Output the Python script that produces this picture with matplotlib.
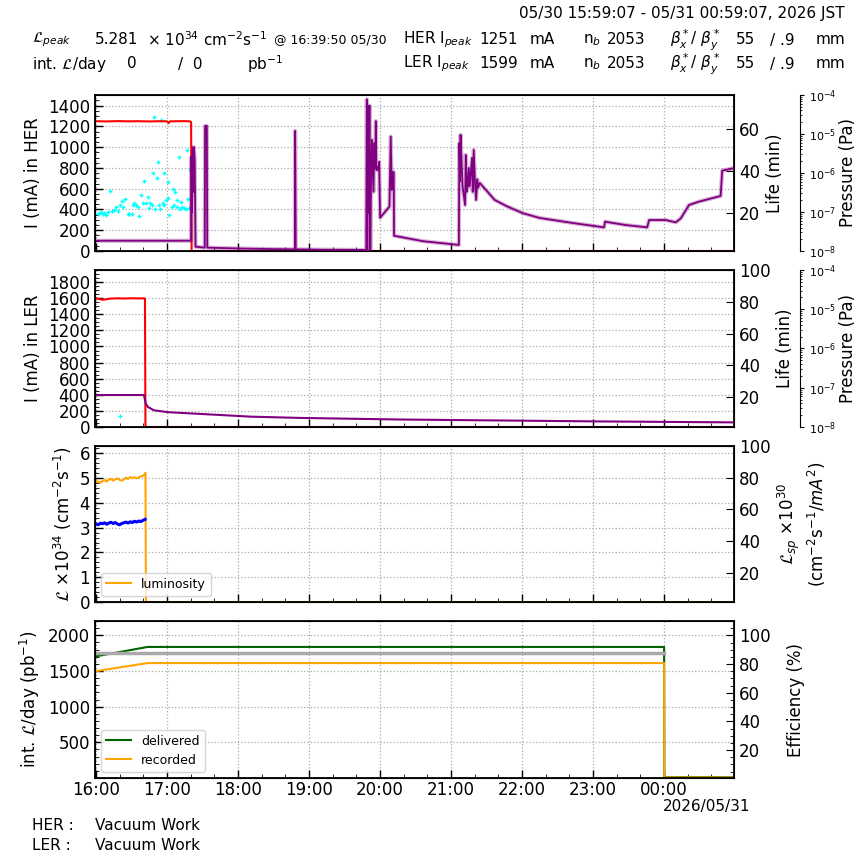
import matplotlib
matplotlib.use("Agg")
import matplotlib.pyplot as plt
from matplotlib.ticker import MultipleLocator, AutoMinorLocator, LogLocator, NullFormatter

# time in hours after 16:00 (05/30)
hour_ticks = [0, 1, 2, 3, 4, 5, 6, 7, 8]
hour_labels = ["16:00", "17:00", "18:00", "19:00", "20:00", "21:00", "22:00", "23:00", "00:00"]

# ---- HER ----
her_cur_t = [0.0, 0.15, 0.3, 0.45, 0.6, 0.75, 0.9, 1.0, 1.02, 1.04, 1.15, 1.25, 1.33, 1.338, 1.345, 8.985]
her_cur = [1250, 1248, 1251, 1249, 1250, 1248, 1250, 1249, 1232, 1249, 1250, 1251, 1248, 1240, 0, 0]

her_life_t = [0.0, 1.33, 1.338, 1.342, 1.35, 1.356, 1.363, 1.37, 1.378, 1.389, 1.400, 1.413, 1.53,
              1.535, 1.56, 1.565, 2.0, 2.5, 2.800, 2.803, 2.812, 3.2, 3.804, 3.813, 3.820, 3.827,
              3.839, 3.850, 3.862, 3.874, 3.884, 3.906, 3.920, 3.930, 3.940, 3.947, 3.954, 3.968,
              3.976, 3.986, 4.0, 4.131, 4.150, 4.164, 4.178, 4.192, 4.196, 4.6, 5.109, 5.116, 5.126,
              5.133, 5.147, 5.161, 5.18, 5.197, 5.207, 5.22, 5.231, 5.249, 5.258, 5.267, 5.295,
              5.305, 5.319, 5.335, 5.352, 5.368, 5.38, 5.404, 5.614, 5.778, 6.007, 6.246, 6.709,
              7.154, 7.168, 7.462, 7.761, 7.789, 8.024, 8.164, 8.235, 8.351, 8.491, 8.796, 8.818, 8.982]
her_life = [6.6, 6.6, 6.6, 46.8, 20.0, 32.5, 51.3, 30.0, 51.3, 45.0, 3.7, 3.7, 3.3,
            61.5, 61.5, 3.3, 2.9, 2.6, 2.5, 59.1, 2.5, 2.3, 2.2, 74.2, 1.7, 71.2,
            20.0, 71.2, 1.7, 40.0, 54.8, 30.0, 53.3, 41.4, 63.8, 40.4, 40.4, 41.9,
            40.4, 44.3, 17.6, 22.9, 56.4, 30.9, 39.4, 39.4, 9.0, 6.4, 4.6, 53.3, 35.0,
            57.2, 45.0, 32.6, 28.0, 23.7, 47.6, 30.0, 32.6, 41.4, 32.6, 35.0, 46.2,
            30.0, 50.0, 35.0, 26.1, 36.0, 32.0, 34.2, 26.1, 23.2, 19.8, 17.5, 15.1,
            13.0, 15.7, 14.1, 13.0, 16.5, 16.5, 15.4, 17.3, 23.7, 25.3, 28.0, 40.1, 41.3]

her_dot_t = [0.023, 0.047, 0.070, 0.094, 0.117, 0.140, 0.164, 0.201, 0.225, 0.248, 0.281, 0.304,
             0.342, 0.360, 0.374, 0.407, 0.444, 0.468, 0.501, 0.524, 0.538, 0.561, 0.585, 0.608,
             0.632, 0.655, 0.678, 0.702, 0.725, 0.739, 0.763, 0.781, 0.805, 0.819, 0.833, 0.851,
             0.865, 0.880, 0.903, 0.912, 0.936, 0.950, 0.959, 0.982, 1.006, 1.015, 1.029, 1.062,
             1.086, 1.099, 1.109, 1.137, 1.146, 1.170, 1.179, 1.193, 1.216, 1.240, 1.263, 1.277,
             1.296, 1.310, 1.324]
her_dot = [357, 369, 379, 357, 369, 347, 379, 578, 389, 395, 427, 389,
           443, 482, 427, 498, 357, 357, 357, 443, 466, 443, 421, 337,
           540, 459, 678, 459, 524, 411, 459, 443, 748, 1294, 401, 700,
           854, 443, 401, 1262, 459, 443, 748, 491, 507, 668, 347, 421,
           594, 443, 572, 491, 421, 909, 401, 475, 427, 411, 401, 973,
           498, 411, 780]

# ---- LER ----
ler_cur_t = [0.0, 0.05, 0.1, 0.15, 0.2, 0.3, 0.4, 0.5, 0.6, 0.68, 0.688, 0.695, 8.985]
ler_cur = [1597, 1588, 1580, 1588, 1595, 1598, 1596, 1599, 1597, 1598, 1595, 0, 0]

ler_life_t = [0.0, 0.674, 0.688, 0.702, 0.730, 0.814, 1.011, 1.474, 2.175, 2.877, 4.281, 5.684, 7.088, 8.968]
ler_life = [21.4, 21.4, 18.3, 15.8, 13.9, 11.8, 10.6, 9.5, 7.8, 7.0, 6.0, 5.4, 4.8, 4.2]

ler_dot_t = [0.341]
ler_dot = [137]

# ---- luminosity ----
lum_t = [0.0, 0.03, 0.06, 0.09, 0.12, 0.15, 0.18, 0.21, 0.24, 0.27, 0.30, 0.33, 0.36, 0.39,
         0.42, 0.45, 0.48, 0.51, 0.54, 0.57, 0.60, 0.63, 0.66, 0.68, 0.695, 0.702, 8.985]
lum = [4.90, 4.85, 4.82, 4.88, 4.93, 4.86, 4.95, 4.97, 4.90, 4.96, 4.99, 4.93, 4.90, 4.95,
       5.02, 4.97, 5.05, 5.00, 5.04, 4.99, 5.03, 5.07, 5.10, 5.14, 5.22, 0.0, 0.0]

sp_lum_t = [0.0, 0.03, 0.06, 0.09, 0.12, 0.15, 0.18, 0.21, 0.24, 0.27, 0.30, 0.33, 0.36, 0.39,
            0.42, 0.45, 0.48, 0.51, 0.54, 0.57, 0.60, 0.63, 0.66, 0.69]
sp_lum = [3.15, 3.12, 3.18, 3.16, 3.20, 3.14, 3.19, 3.22, 3.17, 3.21, 3.15, 3.12, 3.17, 3.20,
          3.23, 3.19, 3.24, 3.21, 3.26, 3.23, 3.27, 3.25, 3.30, 3.34]

# ---- integrated luminosity ----
int_t = [0.0, 0.725, 8.0, 8.003, 8.985]
delivered = [1706, 1837, 1837, 12, 12]
recorded = [1499, 1611, 1611, 8, 8]
eff_t = [0.0, 8.0]
eff = [87.7, 87.7]

XMIN, XMAX = -0.015, 8.985
TFS = 12

fig = plt.figure(figsize=(8.64, 8.64), dpi=100)
left, width = 0.110, 0.7396
ax1 = fig.add_axes([left, 0.7095, width, 0.1806])
ax2 = fig.add_axes([left, 0.5058, width, 0.1817], sharex=ax1)
ax3 = fig.add_axes([left, 0.3032, width, 0.1806], sharex=ax1)
ax4 = fig.add_axes([left, 0.0995, width, 0.1817], sharex=ax1)


def style(ax):
    ax.set_xlim(XMIN, XMAX)
    ax.set_xticks(hour_ticks)
    ax.xaxis.set_minor_locator(MultipleLocator(1 / 3))
    ax.yaxis.set_minor_locator(AutoMinorLocator())
    ax.tick_params(which="both", direction="in", labelsize=TFS)
    ax.tick_params(which="major", length=6, width=1)
    ax.tick_params(which="minor", length=3)
    ax.tick_params(axis="x", pad=2)
    ax.grid(True, which="major", color="#aaaaaa", linestyle=":", linewidth=0.9)
    for s in ax.spines.values():
        s.set_linewidth(1.3)


def twin(ax, lo, hi, label, pad=4, ticks=(20, 40, 60, 80, 100)):
    tw = ax.twinx()
    tw.set_yticks(list(ticks))
    tw.set_ylim(lo, hi)
    tw.tick_params(which="both", direction="in", labelsize=TFS)
    tw.tick_params(which="major", length=6)
    tw.set_ylabel(label, fontsize=12, labelpad=pad)
    return tw


def pressure(ax):
    pa = ax.twinx()
    pa.spines["right"].set_position(("axes", 1.103))
    pa.set_yscale("log")
    pa.set_ylim(1e-8, 1e-4)
    pa.yaxis.set_major_locator(LogLocator(base=10, numticks=10))
    pa.yaxis.set_minor_locator(LogLocator(base=10, subs=range(2, 10), numticks=10))
    pa.yaxis.set_minor_formatter(NullFormatter())
    pa.tick_params(which="both", direction="out", labelsize=8)
    pa.tick_params(which="major", length=3)
    pa.tick_params(which="minor", length=1.5)
    for s in ["top", "bottom", "left"]:
        pa.spines[s].set_visible(False)
    pa.set_ylabel("Pressure (Pa)", fontsize=12, labelpad=2)


# panel 1 : HER
style(ax1)
ax1.set_ylim(0, 1503)
ax1.yaxis.set_major_locator(MultipleLocator(200))
ax1.set_ylabel("I (mA) in HER", fontsize=12)
ax1.plot(her_dot_t, her_dot, linestyle="none", marker="+", markersize=3, color="cyan")
ax1.plot(her_cur_t, her_cur, color="red", lw=1.5)
t1 = twin(ax1, 1.7, 76.3, "Life (min)", ticks=(20, 40, 60))
t1.plot(her_life_t, her_life, color="purple", lw=3, alpha=0.3)
t1.plot(her_life_t, her_life, color="purple", lw=1.3)
pressure(ax1)

# panel 2 : LER
style(ax2)
ax2.set_ylim(0, 1950)
ax2.yaxis.set_major_locator(MultipleLocator(200))
ax2.set_ylabel("I (mA) in LER", fontsize=12)
ax2.plot(ler_dot_t, ler_dot, linestyle="none", marker="+", markersize=3, color="cyan")
ax2.plot(ler_cur_t, ler_cur, color="red", lw=1.5)
t2 = twin(ax2, 1.3, 100, "Life (min)")
t2.plot(ler_life_t, ler_life, color="purple", lw=1.5)
pressure(ax2)

# panel 3 : luminosity
style(ax3)
ax3.set_ylim(0, 6.3)
ax3.yaxis.set_major_locator(MultipleLocator(1))
ax3.set_ylabel(r"$\mathcal{L}$ $\times 10^{34}$ (cm$^{-2}$s$^{-1}$)", fontsize=12)
ax3.plot(lum_t, lum, color="orange", lw=1.5, label="luminosity")
ax3.plot(sp_lum_t, sp_lum, color="blue", lw=2.2)
ax3.legend(loc="lower left", fontsize=9, framealpha=0.8, handlelength=2)
t3 = twin(ax3, 1.5, 100, "$\\mathcal{L}_{sp}$ $\\times 10^{30}$\n(cm$^{-2}$s$^{-1}$/$mA^2$)", pad=4)

# panel 4 : integrated luminosity
style(ax4)
ax4.set_yticks([500, 1000, 1500, 2000])
ax4.set_ylim(0, 2200)
ax4.yaxis.set_minor_locator(MultipleLocator(100))
ax4.set_ylabel(r"int. $\mathcal{L}$/day (pb$^{-1}$)", fontsize=12)
ax4.plot(int_t, delivered, color="darkgreen", lw=1.5, label="delivered")
ax4.plot(int_t, recorded, color="orange", lw=1.5, label="recorded")
ax4.legend(loc="lower left", fontsize=9, framealpha=0.8, handlelength=2)
t4 = twin(ax4, 0.5, 110, "Efficiency (%)", pad=12)
t4.yaxis.set_minor_locator(MultipleLocator(5))
t4.tick_params(which="minor", direction="in", length=3)
t4.plot(eff_t, eff, color="darkgray", lw=2.5)
ax4.set_xticklabels(hour_labels)

for ax in [ax1, ax2, ax3]:
    plt.setp(ax.get_xticklabels(), visible=False)

# header text
fs = 11
fig.text(0.978, 0.984, "05/30 15:59:07 - 05/31 00:59:07, 2026 JST", ha="right", va="center", fontsize=fs)
r1, r2 = 1 - 40 / 864, 1 - 64 / 864


def px(x):
    return x / 864


row1 = [(32, r"$\mathcal{L}_{peak}$", fs), (95, "5.281", fs),
        (147, r"$\times$ 10$^{34}$ cm$^{-2}$s$^{-1}$", fs), (274, "@ 16:39:50 05/30", 9),
        (403, "HER I$_{peak}$", fs), (479, "1251", fs), (530, "mA", fs),
        (583, "n$_b$", fs), (607, "2053", fs), (670, r"$\beta_x^*$/ $\beta_y^*$", fs),
        (736, "55", fs), (770, "/ .9", fs), (816, "mm", fs)]
row2 = [(32, r"int. $\mathcal{L}$/day", fs), (127, "0", fs), (178, "/  0", fs),
        (247, "pb$^{-1}$", fs), (403, "LER I$_{peak}$", fs), (479, "1599", fs), (530, "mA", fs),
        (583, "n$_b$", fs), (607, "2053", fs), (670, r"$\beta_x^*$/ $\beta_y^*$", fs),
        (736, "55", fs), (770, "/ .9", fs), (816, "mm", fs)]
for x, s, f in row1:
    fig.text(px(x), r1, s, fontsize=f, va="center", ha="left")
for x, s, f in row2:
    fig.text(px(x), r2, s, fontsize=f, va="center", ha="left")

fig.text(px(707), 1 - 806 / 864, "2026/05/31", ha="center", va="center", fontsize=TFS - 1)
fig.text(px(32), 1 - 826 / 864, "HER :", fontsize=fs, va="center")
fig.text(px(95), 1 - 826 / 864, "Vacuum Work", fontsize=fs, va="center")
fig.text(px(32), 1 - 846 / 864, "LER :", fontsize=fs, va="center")
fig.text(px(95), 1 - 846 / 864, "Vacuum Work", fontsize=fs, va="center")

fig.savefig("out.png", dpi=100)
